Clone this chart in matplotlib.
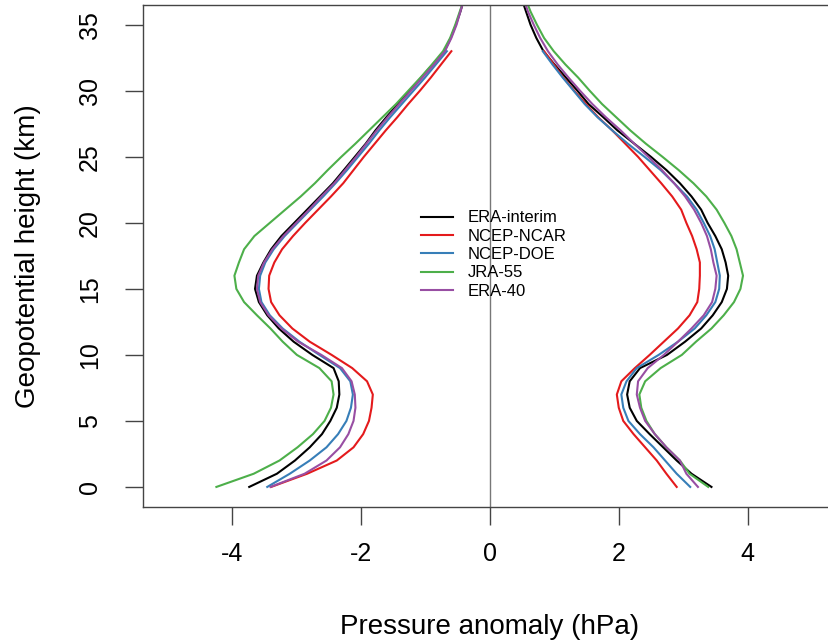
import numpy as np
import matplotlib
matplotlib.use("Agg")
import matplotlib.pyplot as plt

plt.rcParams['font.family'] = ['Liberation Sans', 'DejaVu Sans']
plt.rcParams['axes.unicode_minus'] = False

# heights (km), one value per km; the NCEP reanalyses stop at 33 km
heights = list(range(0, 38))
heights_ncep = list(range(0, 34))

eraint_neg = [-3.74, -3.31, -3.03, -2.80, -2.61, -2.48, -2.38, -2.34, -2.35, -2.43,
              -2.76, -3.05, -3.28, -3.46, -3.59, -3.65, -3.62, -3.52, -3.40, -3.24,
              -3.04, -2.84, -2.64, -2.44, -2.27, -2.10, -1.93, -1.78, -1.61, -1.43,
              -1.25, -1.07, -0.89, -0.71, -0.61, -0.53, -0.46, -0.40]
eraint_pos = [3.44, 3.13, 2.90, 2.69, 2.48, 2.28, 2.17, 2.13, 2.17, 2.33,
              2.75, 3.03, 3.28, 3.46, 3.60, 3.68, 3.70, 3.66, 3.60, 3.50,
              3.38, 3.28, 3.13, 2.95, 2.74, 2.50, 2.24, 1.98, 1.76, 1.53,
              1.36, 1.18, 1.00, 0.83, 0.72, 0.63, 0.56, 0.49]
ncar_neg = [-3.40, -2.84, -2.38, -2.12, -1.97, -1.88, -1.84, -1.82, -1.91, -2.14,
            -2.46, -2.80, -3.07, -3.27, -3.40, -3.44, -3.43, -3.35, -3.23, -3.06,
            -2.87, -2.67, -2.47, -2.28, -2.12, -1.96, -1.79, -1.62, -1.44, -1.27,
            -1.09, -0.92, -0.76, -0.60]
ncar_pos = [2.90, 2.74, 2.59, 2.41, 2.23, 2.07, 2.00, 1.97, 2.04, 2.25,
            2.48, 2.70, 2.92, 3.10, 3.22, 3.25, 3.26, 3.26, 3.21, 3.14,
            3.05, 2.97, 2.83, 2.66, 2.48, 2.30, 2.10, 1.90, 1.68, 1.49,
            1.31, 1.14, 0.99, 0.84]
doe_neg = [-3.46, -3.11, -2.80, -2.54, -2.36, -2.23, -2.16, -2.13, -2.17, -2.33,
           -2.65, -2.96, -3.22, -3.42, -3.55, -3.59, -3.57, -3.49, -3.36, -3.19,
           -2.99, -2.79, -2.59, -2.40, -2.22, -2.05, -1.88, -1.72, -1.55, -1.37,
           -1.19, -1.01, -0.84, -0.67]
doe_pos = [3.11, 2.90, 2.72, 2.54, 2.33, 2.15, 2.07, 2.04, 2.12, 2.28,
           2.62, 2.92, 3.18, 3.36, 3.50, 3.56, 3.57, 3.53, 3.49, 3.42,
           3.32, 3.21, 3.06, 2.86, 2.65, 2.40, 2.14, 1.90, 1.67, 1.47,
           1.30, 1.13, 0.97, 0.82]
jra_neg = [-4.25, -3.67, -3.27, -2.99, -2.75, -2.57, -2.47, -2.43, -2.46, -2.65,
           -3.00, -3.22, -3.41, -3.62, -3.82, -3.94, -3.97, -3.90, -3.82, -3.66,
           -3.42, -3.18, -2.94, -2.72, -2.52, -2.31, -2.09, -1.88, -1.67, -1.46,
           -1.27, -1.08, -0.90, -0.73, -0.62, -0.54, -0.47, -0.40]
jra_pos = [3.39, 3.10, 2.95, 2.74, 2.56, 2.43, 2.35, 2.32, 2.41, 2.65,
           2.98, 3.20, 3.44, 3.63, 3.79, 3.89, 3.93, 3.88, 3.83, 3.75,
           3.64, 3.52, 3.36, 3.16, 2.93, 2.68, 2.42, 2.18, 1.96, 1.74,
           1.55, 1.37, 1.17, 0.99, 0.84, 0.73, 0.63, 0.55]
era40_neg = [-3.41, -2.88, -2.54, -2.33, -2.20, -2.12, -2.09, -2.10, -2.15, -2.30,
             -2.62, -2.98, -3.24, -3.44, -3.57, -3.62, -3.60, -3.51, -3.38, -3.21,
             -3.01, -2.81, -2.62, -2.42, -2.25, -2.08, -1.92, -1.76, -1.59, -1.41,
             -1.23, -1.05, -0.87, -0.70, -0.60, -0.52, -0.46, -0.40]
era40_pos = [3.23, 3.05, 2.95, 2.74, 2.56, 2.41, 2.33, 2.28, 2.30, 2.45,
             2.70, 2.92, 3.13, 3.32, 3.45, 3.50, 3.52, 3.47, 3.43, 3.37,
             3.28, 3.17, 3.03, 2.86, 2.67, 2.46, 2.24, 2.03, 1.80, 1.59,
             1.40, 1.22, 1.05, 0.90, 0.78, 0.68, 0.59, 0.52]

names = ["ERA-interim", "NCEP-NCAR", "NCEP-DOE", "JRA-55", "ERA-40"]
colors = ["black", "#E41A1C", "#377EB8", "#4DAF4A", "#984EA3"]
series = [(heights, eraint_neg, eraint_pos), (heights_ncep, ncar_neg, ncar_pos),
          (heights_ncep, doe_neg, doe_pos), (heights, jra_neg, jra_pos), (heights, era40_neg, era40_pos)]

fig = plt.figure(figsize=(8.29, 6.43), dpi=100)
ax = fig.add_axes([143 / 829., 136 / 643., 694 / 829., 502 / 643.])

ax.axvline(0, color="#777777", lw=1, zorder=1)
for (h, neg, pos), name, col in zip(series, names, colors):
    ax.plot(neg, h, color=col, lw=1.5, label=name)
    ax.plot(pos, h, color=col, lw=1.5)

ax.set_xlim(-5.39, 5.39)
ax.set_ylim(-1.52, 36.5)
ax.set_xticks([-4, -2, 0, 2, 4])
ax.set_yticks(np.arange(0, 36, 5))
for s in ax.spines.values():
    s.set_color("#444444")
    s.set_linewidth(1)
ax.tick_params(axis="both", length=13, width=1, color="#444444", labelsize=18)
ax.tick_params(axis="x", pad=12)
ax.tick_params(axis="y", pad=16.5)
for lab in ax.get_yticklabels():
    lab.set_rotation(90)
    lab.set_va("center")

ax.set_xlabel("Pressure anomaly (hPa)", fontsize=20)
ax.xaxis.set_label_coords(0.5, -0.24)
ax.xaxis.label.set_va("center")
ax.set_ylabel("Geopotential height (km)", fontsize=20)
ax.yaxis.set_label_coords(-0.166, 0.5)
ax.yaxis.label.set_va("center")

ax.legend(loc="center left", bbox_to_anchor=(-1.07, 17.6), bbox_transform=ax.transData,
          frameon=False, fontsize=12, handlelength=1.9, handletextpad=0.9, labelspacing=0.2,
          borderpad=0, borderaxespad=0)

fig.savefig("out.png", dpi=100)
